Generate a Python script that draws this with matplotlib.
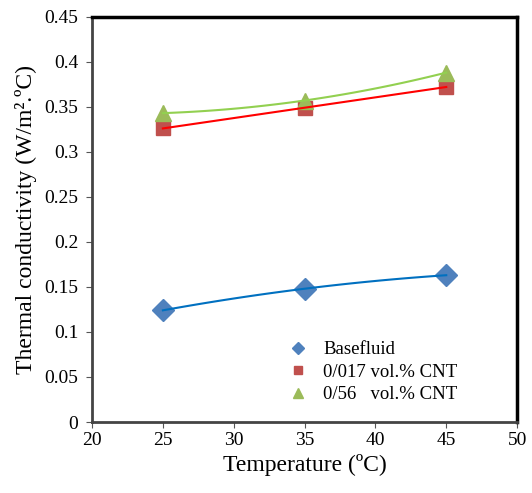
import numpy as np
import matplotlib
matplotlib.use("Agg")
import matplotlib.pyplot as plt

plt.rcParams["font.family"] = ["Liberation Serif", "DejaVu Serif"]

temps = [25, 35, 45]
base = [0.124, 0.148, 0.163]
cnt_017 = [0.326, 0.349, 0.372]
cnt_056 = [0.343, 0.357, 0.388]
labels = ["Basefluid", "0/017 vol.% CNT", "0/56   vol.% CNT"]

series = [
    (base, "D", "#4F81BD", "#0070C0", 11),
    (cnt_017, "s", "#C0504D", "#FF0000", 10),
    (cnt_056, "^", "#9BBB59", "#92D050", 11),
]

fig = plt.figure(figsize=(5.32, 4.93), dpi=100)
ax = fig.add_axes([0.173, 0.144, 0.799, 0.822])

xs = np.linspace(25, 45, 100)
for (vals, mk, mc, lc, ms), lab in zip(series, labels):
    ax.plot(temps, vals, linestyle="none", marker=mk, color=mc, markersize=ms,
            label=lab, zorder=3)
    # smooth trendline through the three points
    coef = np.polyfit(temps, vals, 2)
    ax.plot(xs, np.polyval(coef, xs), color=lc, lw=1.5, zorder=4)

ax.set_xlim(20, 50)
ax.set_ylim(0, 0.45)
ax.set_xticks(range(20, 51, 5))
ax.set_yticks(np.arange(0, 0.451, 0.05))
ax.set_yticklabels(["0", "0.05", "0.1", "0.15", "0.2", "0.25", "0.3", "0.35", "0.4", "0.45"])
ax.tick_params(labelsize=14, direction="out", length=4, width=0.8, color="#555555")
ax.tick_params(axis="y", pad=6)
ax.set_xlabel("Temperature (ºC)", fontsize=17, labelpad=3)
ax.set_ylabel("Thermal conductivity (W/m².ºC)", fontsize=17, labelpad=5)

for s in ("top", "right"):
    ax.spines[s].set_linewidth(2.5)
    ax.spines[s].set_color("black")
for s in ("left", "bottom"):
    ax.spines[s].set_linewidth(2.0)
    ax.spines[s].set_color("#444444")

ax.legend(loc="lower right", bbox_to_anchor=(0.90, 0.005), frameon=False,
          fontsize=13.5, handletextpad=0.6, labelspacing=0.28, handlelength=1.5,
          markerscale=0.6)

fig.savefig("out.png", dpi=100)
